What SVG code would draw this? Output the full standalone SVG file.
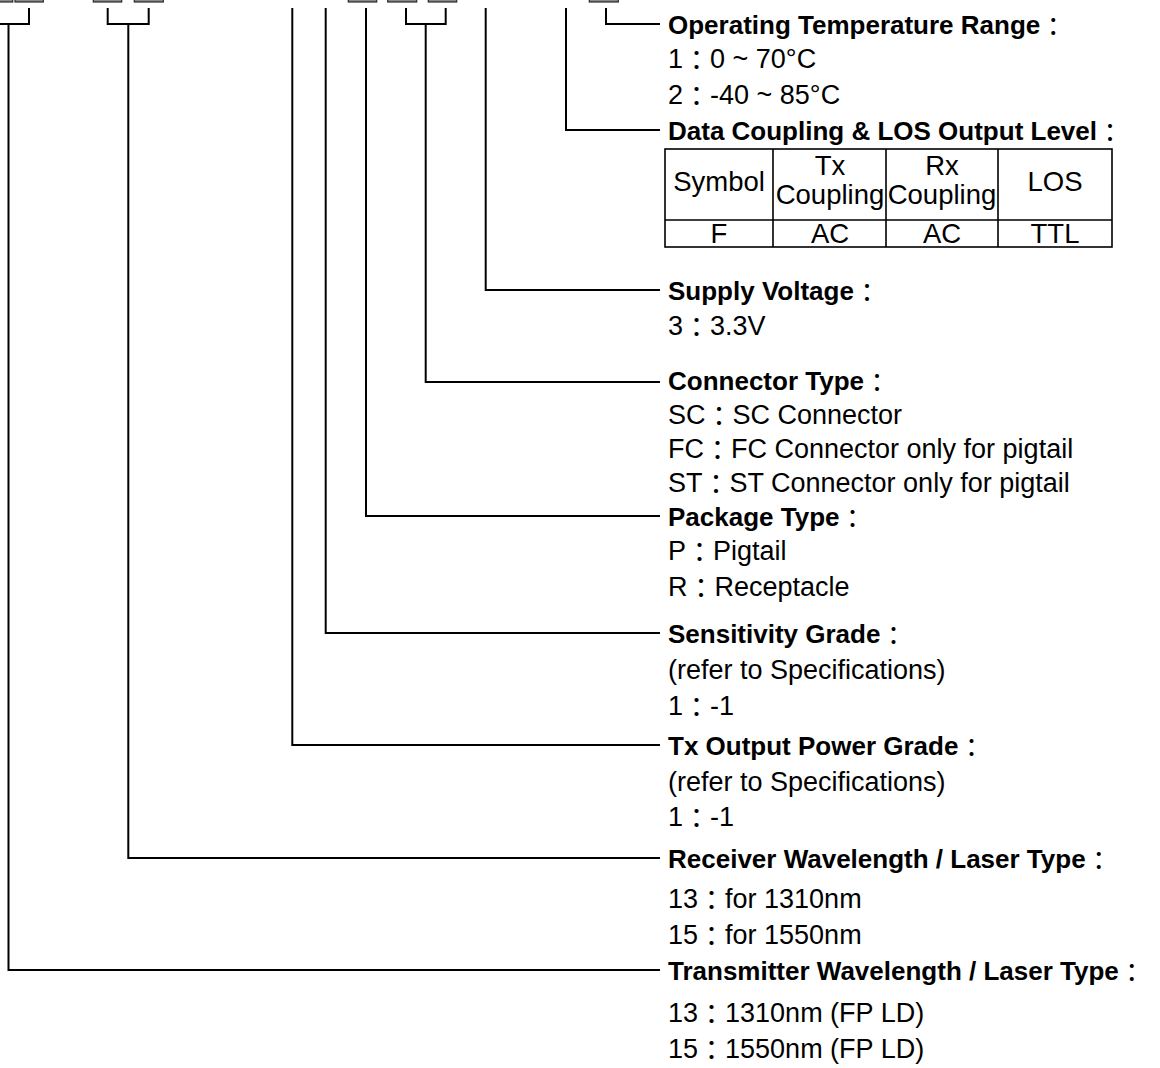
<svg xmlns="http://www.w3.org/2000/svg" width="1160" height="1068" viewBox="0 0 1160 1068">
<style>
text{font-family:"Liberation Sans",Arial,"Noto Sans CJK TC",sans-serif;font-size:27px;fill:#000}
.h{font-weight:bold;font-size:26px}
.c{text-anchor:middle;font-size:27.5px}
.k{font-weight:normal;baseline-shift:-2px}
.ln{fill:none;stroke:#000;stroke-width:2}
.box{fill:#8a8a8a;stroke:#2a2a2a;stroke-width:1.2}
.tb{fill:none;stroke:#000;stroke-width:1.6}
</style>
<rect width="1160" height="1068" fill="#fff"/>
<g id="boxes">
<rect class="box" x="-16" y="-10" width="28.7" height="12"/>
<rect class="box" x="15" y="-10" width="28.3" height="12"/>
<rect class="box" x="93.3" y="-10" width="28.4" height="12"/>
<rect class="box" x="134.3" y="-10" width="29" height="12"/>
<rect class="box" x="348.3" y="-10" width="28.4" height="12"/>
<rect class="box" x="387.7" y="-10" width="29" height="12"/>
<rect class="box" x="428.3" y="-10" width="28.4" height="12"/>
<rect class="box" x="589.3" y="-10" width="29" height="12"/>
</g>
<g id="connectors">
<path class="ln" d="M-13,8 V24 H29 V8 M8.5,24 V970 H660"/>
<path class="ln" d="M107.7,8 V24 H148.7 V8 M128.3,24 V858 H660"/>
<path class="ln" d="M292.3,8 V745 H660"/>
<path class="ln" d="M325.7,8 V633 H660"/>
<path class="ln" d="M366,8 V516 H660"/>
<path class="ln" d="M406,8 V24 H445.7 V8 M425.7,24 V382 H660"/>
<path class="ln" d="M485.7,8 V290 H660"/>
<path class="ln" d="M566,8 V130 H660"/>
<path class="ln" d="M606,8 V24 H660"/>
</g>
<g id="temp">
<text class="h" x="668" y="34">Operating Temperature Range<tspan class="k">：</tspan></text>
<text x="668" y="68">1<tspan class="k">：</tspan>0 ~ 70°C</text>
<text x="668" y="104">2<tspan class="k">：</tspan>-40 ~ 85°C</text>
</g>
<g id="coupling">
<text class="h" x="668" y="140">Data Coupling &amp; LOS Output Level<tspan class="k">：</tspan></text>
<rect class="tb" x="665" y="149" width="447" height="98"/>
<path class="tb" d="M665,220 H1112 M773,149 V247 M886,149 V247 M998,149 V247"/>
<text class="c" x="719" y="191">Symbol</text>
<text class="c" x="830" y="175">Tx</text>
<text class="c" x="830" y="204">Coupling</text>
<text class="c" x="942" y="175">Rx</text>
<text class="c" x="942" y="204">Coupling</text>
<text class="c" x="1055" y="191">LOS</text>
<text class="c" x="719" y="243">F</text>
<text class="c" x="830" y="243">AC</text>
<text class="c" x="942" y="243">AC</text>
<text class="c" x="1055" y="243">TTL</text>
</g>
<g id="supply">
<text class="h" x="668" y="300">Supply Voltage<tspan class="k">：</tspan></text>
<text x="668" y="335">3<tspan class="k">：</tspan>3.3V</text>
</g>
<g id="connector">
<text class="h" x="668" y="390">Connector Type<tspan class="k">：</tspan></text>
<text x="668" y="424">SC<tspan class="k">：</tspan>SC Connector</text>
<text x="668" y="458">FC<tspan class="k">：</tspan>FC Connector only for pigtail</text>
<text x="668" y="492">ST<tspan class="k">：</tspan>ST Connector only for pigtail</text>
</g>
<g id="package">
<text class="h" x="668" y="526">Package Type<tspan class="k">：</tspan></text>
<text x="668" y="560">P<tspan class="k">：</tspan>Pigtail</text>
<text x="668" y="596">R<tspan class="k">：</tspan>Receptacle</text>
</g>
<g id="sensitivity">
<text class="h" x="668" y="643">Sensitivity Grade<tspan class="k">：</tspan></text>
<text x="668" y="679">(refer to Specifications)</text>
<text x="668" y="715">1<tspan class="k">：</tspan>-1</text>
</g>
<g id="txpower">
<text class="h" x="668" y="755">Tx Output Power Grade<tspan class="k">：</tspan></text>
<text x="668" y="791">(refer to Specifications)</text>
<text x="668" y="826">1<tspan class="k">：</tspan>-1</text>
</g>
<g id="rxwave">
<text class="h" x="668" y="868">Receiver Wavelength / Laser Type<tspan class="k">：</tspan></text>
<text x="668" y="908">13<tspan class="k">：</tspan>for 1310nm</text>
<text x="668" y="944">15<tspan class="k">：</tspan>for 1550nm</text>
</g>
<g id="txwave">
<text class="h" x="668" y="980">Transmitter Wavelength / Laser Type<tspan class="k">：</tspan></text>
<text x="668" y="1022">13<tspan class="k">：</tspan>1310nm (FP LD)</text>
<text x="668" y="1058">15<tspan class="k">：</tspan>1550nm (FP LD)</text>
</g>
</svg>
